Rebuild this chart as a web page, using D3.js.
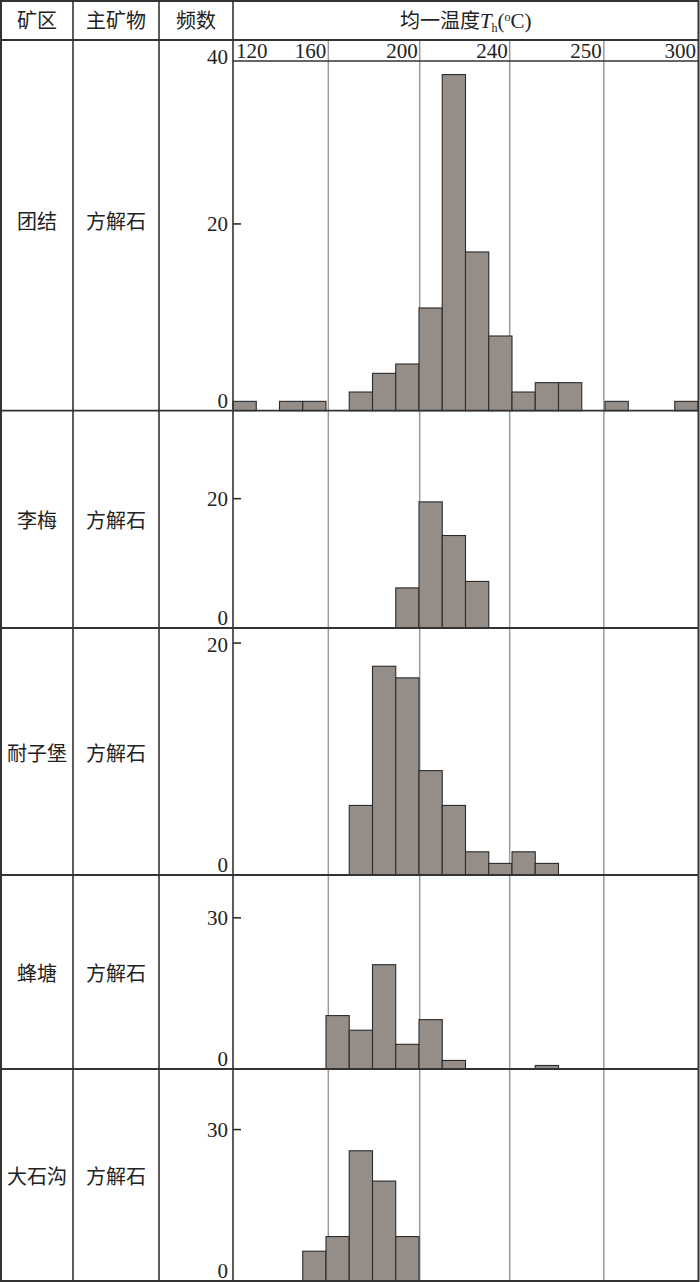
<!DOCTYPE html>
<html><head><meta charset="utf-8">
<script src="https://cdn.jsdelivr.net/npm/d3@7"></script>
<style>body{margin:0;background:#fff}svg{display:block}</style>
</head><body><svg id="c" width="700" height="1282"></svg>
<script>
// ---------- data ----------
const headers = ["矿区", "主矿物", "频数"];
const districts = ["团结", "李梅", "耐子堡", "蜂塘", "大石沟"];
const minerals = ["方解石", "方解石", "方解石", "方解石", "方解石"];
const tempLabels = ["120", "160", "200", "240", "250", "300"];
const tempLabelBins = [0, 4.1, 8.03, 11.9, 15.95, 20];
const gridBins = [4.1, 8.03, 11.9, 15.95];
const binCount = 20;
const countsTuanjie  = [1, 0, 1, 1, 0, 2, 4, 5, 11, 36, 17, 8, 2, 3, 3, 0, 1, 0, 0, 1];
const countsLimei    = [0, 0, 0, 0, 0, 0, 0, 6.2, 19.5, 14.3, 7.2, 0, 0, 0, 0, 0, 0, 0, 0, 0];
const countsNaizibao = [0, 0, 0, 0, 0, 6, 18, 17, 9, 6, 2, 1, 2, 1, 0, 0, 0, 0, 0, 0];
const countsFengtang = [0, 0, 0, 0, 10.6, 7.7, 20.7, 4.9, 9.8, 1.7, 0, 0, 0, 0.7, 0, 0, 0, 0, 0, 0];
const countsDashigou = [0, 0, 0, 5.9, 8.8, 25.8, 19.8, 8.8, 0, 0, 0, 0, 0, 0, 0, 0, 0, 0, 0, 0];
const panelCounts = [countsTuanjie, countsLimei, countsNaizibao, countsFengtang, countsDashigou];
const yTicks = [[0, 20, 40], [0, 20], [0, 20], [0, 30], [0, 30]];
const yDomainMax = [39.7, 33.6, 21.3, 38.5, 42];

// ---------- layout ----------
const W = 700, H = 1282;
const colX = [1, 73, 159, 233, 698.5];
const headerY = [1, 40];
const rowY = [40, 410.7, 628, 875, 1069, 1281];
const labelRowBottom = 61;
const numFont = "'Liberation Serif','Times New Roman',serif";
const cjkFont = "'Liberation Serif','Noto Sans CJK SC',serif";
const barFill = "#958d88";

const svg = d3.select("#c");
svg.append("rect").attr("width", W).attr("height", H).attr("fill", "#fff");

const x = d3.scaleLinear().domain([0, binCount]).range([233, 698]);

// gridlines
svg.append("g").selectAll("line").data(gridBins).join("line")
  .attr("x1", d => x(d)).attr("x2", d => x(d))
  .attr("y1", headerY[1]).attr("y2", rowY[5])
  .attr("stroke", "#9a9a9a").attr("stroke-width", 1.5);

// panels
panelCounts.forEach((counts, i) => {
  const top = rowY[i], base = rowY[i + 1];
  const y = d3.scaleLinear().domain([0, yDomainMax[i]]).range([base, top]);
  const g = svg.append("g");
  const bars = counts.map((v, k) => ({k, v})).filter(d => d.v > 0);
  g.selectAll("rect").data(bars).join("rect")
    .attr("x", d => x(d.k)).attr("width", d => x(d.k + 1) - x(d.k))
    .attr("y", d => y(d.v)).attr("height", d => y(0) - y(d.v))
    .attr("fill", barFill).attr("stroke", "#2a2a2a").attr("stroke-width", 1.1);

  // tick marks
  g.selectAll("line.tk").data(yTicks[i].filter(t => t > 0 && y(t) > top + 5)).join("line")
    .attr("class", "tk")
    .attr("x1", x(0)).attr("x2", x(0) + 8)
    .attr("y1", d => y(d)).attr("y2", d => y(d))
    .attr("stroke", "#222").attr("stroke-width", 1.5);

  // tick labels
  g.selectAll("text.yl").data(yTicks[i]).join("text")
    .attr("class", "yl")
    .attr("x", 228)
    .attr("y", d => d === 0 ? base - 10 : Math.max(y(d), top + 17))
    .attr("dy", "0.35em")
    .attr("text-anchor", "end")
    .attr("font-family", numFont).attr("font-size", 21).attr("fill", "#222")
    .text(d => d);

  // row labels
  const cy = (top + base) / 2 + (i === 0 ? -3 : 2);
  g.append("text").attr("x", (colX[0] + colX[1]) / 2).attr("y", cy).attr("dy", "0.35em")
    .attr("text-anchor", "middle").attr("font-family", cjkFont).attr("font-size", 20).attr("fill", "#222")
    .text(districts[i]);
  g.append("text").attr("x", (colX[1] + colX[2]) / 2).attr("y", cy).attr("dy", "0.35em")
    .attr("text-anchor", "middle").attr("font-family", cjkFont).attr("font-size", 20).attr("fill", "#222")
    .text(minerals[i]);
});

// temperature labels
svg.append("g").selectAll("text").data(tempLabels).join("text")
  .attr("x", (d, k) => tempLabelBins[k] === 0 ? x(0) + 3 : x(tempLabelBins[k]) - 2)
  .attr("y", 58)
  .attr("text-anchor", (d, k) => tempLabelBins[k] === 0 ? "start" : "end")
  .attr("font-family", numFont).attr("font-size", 21).attr("fill", "#222")
  .text(d => d);
svg.append("line").attr("x1", colX[3]).attr("x2", colX[4])
  .attr("y1", labelRowBottom).attr("y2", labelRowBottom)
  .attr("stroke", "#333").attr("stroke-width", 1.5);

// header texts
headers.forEach((h, k) => {
  svg.append("text").attr("x", (colX[k] + colX[k + 1]) / 2).attr("y", 21).attr("dy", "0.35em")
    .attr("text-anchor", "middle").attr("font-family", cjkFont).attr("font-size", 20).attr("fill", "#222")
    .text(h);
});
const th = svg.append("text").attr("x", (colX[3] + colX[4]) / 2).attr("y", 21).attr("dy", "0.35em")
  .attr("text-anchor", "middle").attr("font-family", cjkFont).attr("font-size", 20).attr("fill", "#222");
th.append("tspan").text("均一温度");
th.append("tspan").attr("font-family", numFont).attr("font-style", "italic").attr("font-size", 21).text("T");
th.append("tspan").attr("font-family", numFont).attr("font-size", 12).attr("dy", 4).text("h");
th.append("tspan").attr("font-family", numFont).attr("font-size", 21).attr("dy", -4).text("(");
th.append("tspan").attr("font-family", numFont).attr("font-size", 12).attr("dy", -7).text("o");
th.append("tspan").attr("font-family", numFont).attr("font-size", 21).attr("dy", 7).text("C)");

// table lines
svg.append("g").selectAll("line").data(colX.slice(1, 4)).join("line")
  .attr("x1", d => d).attr("x2", d => d).attr("y1", 1).attr("y2", rowY[5])
  .attr("stroke", "#333").attr("stroke-width", 1.6);
svg.append("g").selectAll("line").data(rowY.slice(0, 5)).join("line")
  .attr("x1", colX[0]).attr("x2", colX[4]).attr("y1", d => d).attr("y2", d => d)
  .attr("stroke", "#333").attr("stroke-width", 1.8);
svg.append("rect").attr("x", colX[0]).attr("y", 1).attr("width", colX[4] - colX[0]).attr("height", rowY[5] - 1)
  .attr("fill", "none").attr("stroke", "#333").attr("stroke-width", 2);
</script></body></html>
